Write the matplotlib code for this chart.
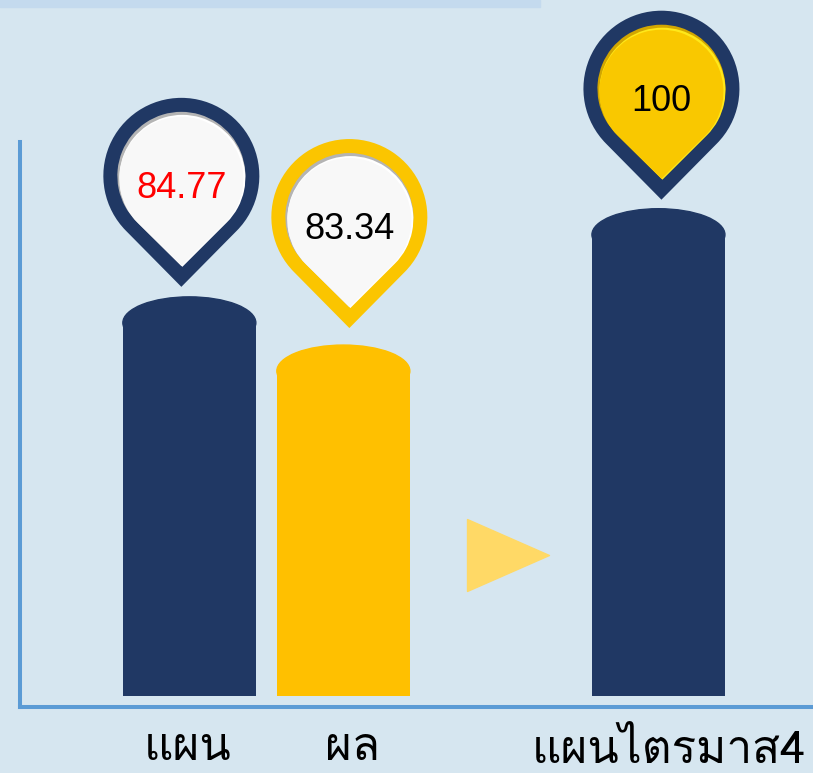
import matplotlib
matplotlib.use("Agg")
import matplotlib.pyplot as plt
import numpy as np
from matplotlib.path import Path
from matplotlib.patches import PathPatch, Ellipse, Rectangle
from matplotlib.transforms import Affine2D, ScaledTranslation

categories = ["แผน", "ผล", "แผนไตรมาส4"]
values = [84.77, 83.34, 100]
bar_heights = [81.9, 72.0, 100.0]  # drawn column heights as they appear in the picture

NAVY = "#203864"
GOLD = "#FFC000"
BG = "#D6E6F0"
AXIS_BLUE = "#5B9BD5"
THAI_FONT = ["Loma", "Noto Sans Thai Looped", "DejaVu Sans"]

x_pos = [0.0, 1.0, 3.046]
bar_colors = [NAVY, GOLD, NAVY]
pin_ring = [NAVY, "#FBC500", NAVY]
pin_fill = ["#F8F8F8", "#F8F8F8", "#F9C800"]
pin_shadow = ["#B4B4B4", "#B4B4B4", "#D2A600"]
pin_light = ["#FFFFFF", "#FFFFFF", "#FFE81A"]
text_colors = ["#FF0000", "black", "black"]
pin_dx = [-8, 6, 3]      # px, pin centre relative to bar centre
pin_gap = [10, 17, 9]    # px, between pin tip and column top
label_dx = [-2, 9, 11]
label_dy = [-53, -53, -56]

PX_X = 154.0   # px per x unit
PX_Y = 4.87    # px per y unit


def drop_path(r, d, dx=0.0, dy=0.0):
    """Map-pin outline: circle radius r centred at origin, tip d below."""
    a = np.degrees(np.arccos(r / d))
    arc = Path.arc(-90 + a, 270 - a)
    verts = np.vstack([[0, -d], arc.vertices * r, [0, -d]])
    verts[:, 0] += dx
    verts[:, 1] += dy
    codes = [Path.MOVETO, Path.LINETO] + list(arc.codes[1:]) + [Path.CLOSEPOLY]
    return Path(verts, codes)


fig = plt.figure(figsize=(8.13, 7.73), dpi=100, facecolor=BG)
W, H = 813.0, 773.0
ax = fig.add_axes([20 / W, (H - 707) / H, 1 - 20 / W, (707 - 142) / H])
ax.set_facecolor("none")
ax.set_xlim((20 - 189.35) / PX_X, (813 - 189.35) / PX_X)
ax.set_ylim((695.7 - 707) / PX_Y, (695.7 - 142) / PX_Y)
for s in ["top", "right"]:
    ax.spines[s].set_visible(False)
for s in ["left", "bottom"]:
    ax.spines[s].set_color(AXIS_BLUE)
    ax.spines[s].set_linewidth(2.9)
ax.set_xticks([])
ax.set_yticks([])

# light band along the top edge
fig.patches.append(Rectangle((0, 1 - 7 / H), 540 / W, 7 / H, transform=fig.transFigure,
                             color="#C4DAEE", zorder=0))

bar_w = 133 / PX_X
cap_b = 26 / PX_Y
for x, h, c in zip(x_pos, bar_heights, bar_colors):
    ax.bar(x, h - cap_b, width=bar_w, color=c, zorder=2)
    ax.add_patch(Ellipse((x, h - cap_b), bar_w, 2 * cap_b, color=c, zorder=2))

# map pins with values
R_OUT, D_OUT = 78, 111
R_IN, D_IN = 64, 90
for i, (x, h, v) in enumerate(zip(x_pos, bar_heights, values)):
    trans = Affine2D().translate(pin_dx[i], pin_gap[i] + D_OUT) + ScaledTranslation(x, h, ax.transData)
    kw = dict(edgecolor="none", transform=trans, clip_on=False)
    ax.add_patch(PathPatch(drop_path(R_OUT, D_OUT), facecolor=pin_ring[i], zorder=4, **kw))
    # inner face: shadow along the top, small highlight at lower right
    ax.add_patch(PathPatch(drop_path(R_IN, D_IN), facecolor=pin_shadow[i], zorder=5, **kw))
    ax.add_patch(PathPatch(drop_path(R_IN - 1, D_IN - 1, dx=1, dy=-2), facecolor=pin_light[i], zorder=5.5, **kw))
    ax.add_patch(PathPatch(drop_path(R_IN - 2, D_IN - 3, dy=-3), facecolor=pin_fill[i], zorder=6, **kw))
    ax.annotate(f"{v:g}", xy=(x, h), xytext=(pin_dx[i], pin_gap[i] + D_OUT - 22),
                textcoords="offset pixels", ha="center", va="baseline",
                fontsize=26, color=text_colors[i], family="Liberation Sans",
                annotation_clip=False, zorder=7)

# arrow between the actual and the quarter plan
tri = Path([(-41, -36), (41, 0), (-41, 36), (-41, -36)],
           [Path.MOVETO, Path.LINETO, Path.LINETO, Path.CLOSEPOLY])
ax.plot([(508.3 - 189.35) / PX_X], [(695.7 - 554.5) / PX_Y], marker=tri, markersize=59,
        color="#FFD966", linestyle="none", zorder=2)

for i, (x, lab) in enumerate(zip(x_pos, categories)):
    ax.annotate(lab, xy=(x, 0), xycoords=("data", "axes fraction"),
                xytext=(label_dx[i], label_dy[i]), textcoords="offset pixels",
                ha="center", va="baseline", fontsize=33,
                color="black", family=THAI_FONT, annotation_clip=False)

fig.savefig("out.png", dpi=100, facecolor=BG)
